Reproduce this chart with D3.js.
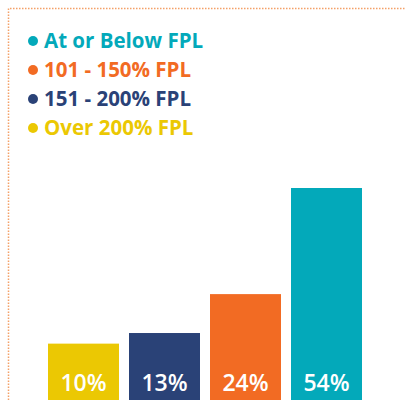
<!DOCTYPE html>
<html>
<head>
<meta charset="utf-8">
<script src="https://cdn.jsdelivr.net/npm/d3@7"></script>
<style>
  body { margin: 0; background: #fff; }
  svg { display: block; font-family: "Open Sans", sans-serif; }
</style>
</head>
<body>
<div id="wrapper"></div>
<script>
// data
const categories = ["Over 200% FPL", "151 - 200% FPL", "101 - 150% FPL", "At or Below FPL"];
const values = [10, 13, 24, 54];
const colors = ["#ebc803", "#2a4277", "#f26b23", "#03a9ba"];
const legendOrder = ["At or Below FPL", "101 - 150% FPL", "151 - 200% FPL", "Over 200% FPL"];

const width = 405, height = 400;

const svg = d3.select("#wrapper").append("svg")
  .attr("width", width)
  .attr("height", height);

// dotted frame (top + left visible)
svg.append("path")
  .attr("d", `M8.5,${height} V8.5 H${width}`)
  .attr("fill", "none")
  .attr("stroke", "#f4a067")
  .attr("stroke-width", 1.5)
  .attr("stroke-dasharray", "1.5,1.5");

// scales
const xScale = d3.scaleBand()
  .domain(categories)
  .range([48, 362])
  .paddingInner(10 / 81)
  .paddingOuter(0);

const yScale = d3.scaleLinear()
  .domain([0, 54])
  .range([379, 188]);

const colorScale = d3.scaleOrdinal().domain(categories).range(colors);

// bars
const bars = svg.append("g");
bars.selectAll("rect")
  .data(categories)
  .join("rect")
  .attr("x", d => xScale(d))
  .attr("width", xScale.bandwidth())
  .attr("y", (d, i) => yScale(values[i]))
  .attr("height", (d, i) => height - yScale(values[i]))
  .attr("fill", d => colorScale(d));

bars.selectAll("text")
  .data(categories)
  .join("text")
  .attr("x", d => xScale(d) + xScale.bandwidth() / 2)
  .attr("y", 391)
  .attr("text-anchor", "middle")
  .attr("fill", "#fff")
  .attr("font-size", 23)
  .attr("font-weight", 600)
  .text((d, i) => values[i] + "%");

// legend
const legend = svg.append("g");
const rows = legend.selectAll("g")
  .data(legendOrder)
  .join("g")
  .attr("transform", (d, i) => `translate(0,${41 + i * 29})`);
rows.append("circle")
  .attr("cx", 33)
  .attr("cy", 0)
  .attr("r", 5)
  .attr("fill", d => colorScale(d));
rows.append("text")
  .attr("x", 44)
  .attr("y", 7)
  .attr("fill", d => colorScale(d))
  .attr("font-size", 20.5)
  .attr("font-weight", 700)
  .text(d => d);
</script>
</body>
</html>
